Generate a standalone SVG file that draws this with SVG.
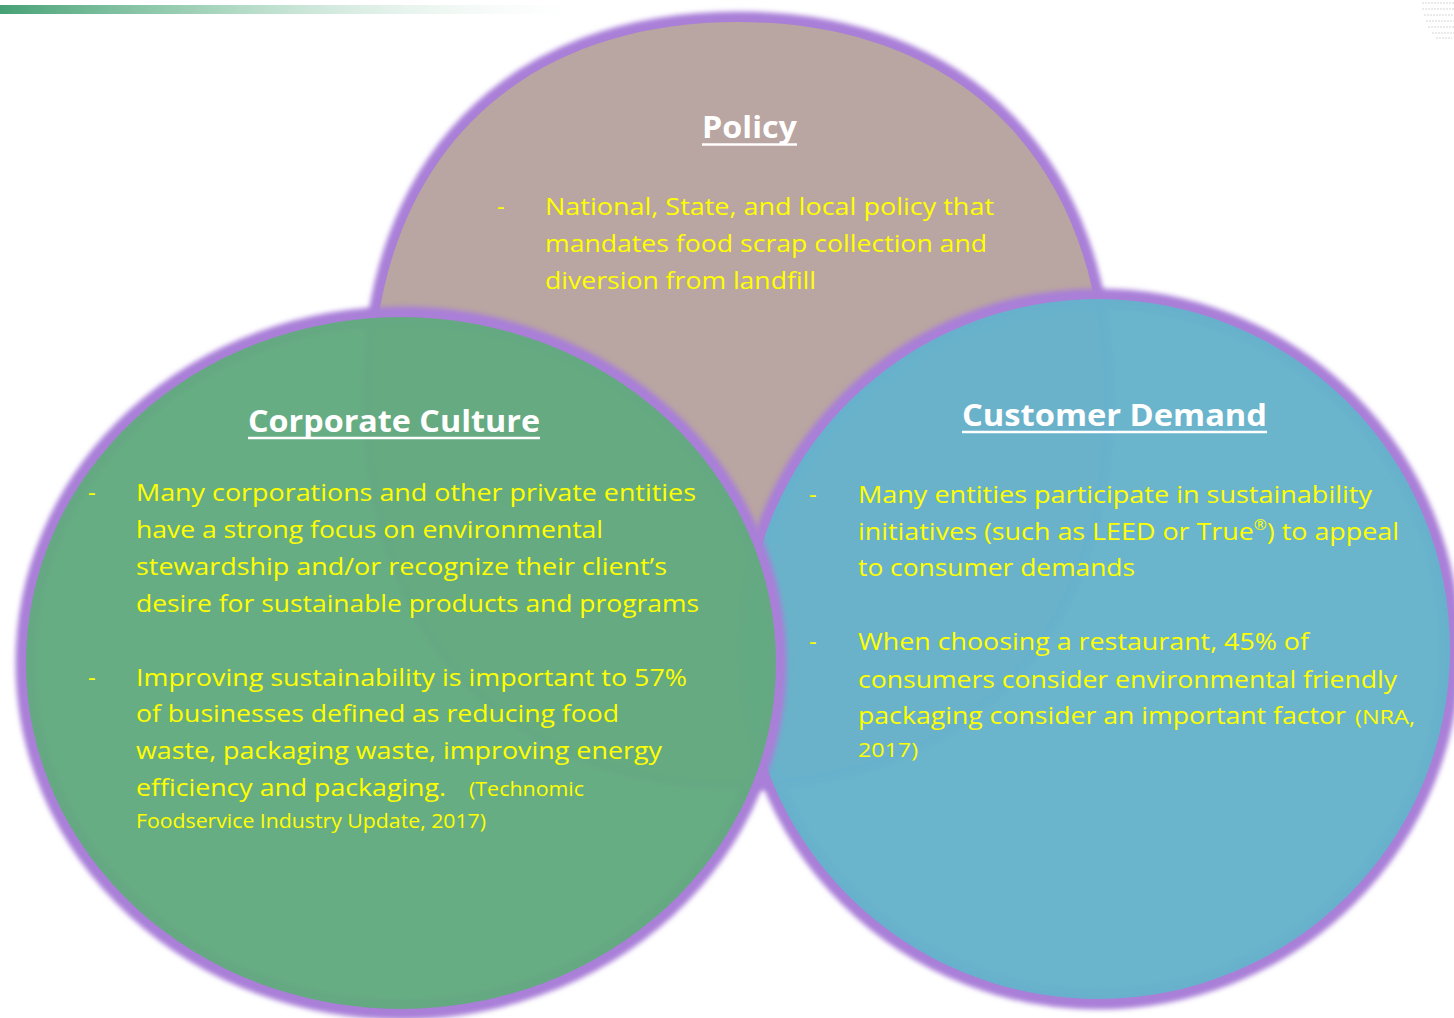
<svg xmlns="http://www.w3.org/2000/svg" width="1454" height="1018" viewBox="0 0 1454 1018">
<defs>
<linearGradient id="topbar" x1="0" y1="0" x2="1" y2="0">
<stop offset="0" stop-color="#46a175" stop-opacity="1"/>
<stop offset="0.35" stop-color="#7bbf9c" stop-opacity="0.7"/>
<stop offset="1" stop-color="#e8f4ee" stop-opacity="0"/>
</linearGradient>
<filter id="glow" x="-10%" y="-10%" width="120%" height="120%">
<feGaussianBlur stdDeviation="2.4"/>
</filter>
<style>
.glow{fill:none;stroke:#a97fd8;stroke-width:21;filter:url(#glow)}
.title{font-family:"Open Sans","Liberation Sans",sans-serif;font-weight:bold;font-size:31px;fill:#ffffff}
.ul{stroke:#ffffff;stroke-width:2.5}
.body{font-family:"Open Sans","Liberation Sans",sans-serif;font-size:24px;fill:#ffff00}
.small{font-family:"Open Sans","Liberation Sans",sans-serif;font-size:20px;fill:#ffff00}
</style>
</defs>
<rect width="1454" height="1018" fill="#ffffff"/>
<rect x="0" y="5" width="580" height="9" fill="url(#topbar)"/>
<g stroke="#e4e4e4" stroke-width="1.5" stroke-dasharray="2 1">
<line x1="1422" y1="3" x2="1454" y2="3"/>
<line x1="1422" y1="9" x2="1454" y2="9"/>
<line x1="1424" y1="15" x2="1454" y2="15"/>
<line x1="1426" y1="21" x2="1454" y2="21"/>
<line x1="1428" y1="27" x2="1454" y2="27"/>
<line x1="1432" y1="33" x2="1454" y2="33"/>
<line x1="1436" y1="38" x2="1452" y2="38"/>
</g>

<g id="policy">
<path class="glow" d="M372,400 C372,166 511,22 738,22 C965,22 1104,166 1104,400 C1104,634 965,780 738,780 C511,780 372,634 372,400 Z"/>
<path fill="#b9a5a1" d="M372,400 C372,166 511,22 738,22 C965,22 1104,166 1104,400 C1104,634 965,780 738,780 C511,780 372,634 372,400 Z"/>
<text class="title" x="702" y="138" textLength="95" lengthAdjust="spacingAndGlyphs">Policy</text>
<line class="ul" x1="702" y1="144.5" x2="797" y2="144.5"/>
<text class="body" x="497" y="215">-</text>
<text class="body" x="545" y="215" textLength="449" lengthAdjust="spacingAndGlyphs">National, State, and local policy that</text>
<text class="body" x="545" y="252" textLength="442" lengthAdjust="spacingAndGlyphs">mandates food scrap collection and</text>
<text class="body" x="545" y="289" textLength="271" lengthAdjust="spacingAndGlyphs">diversion from landfill</text>
</g>

<g id="customer-demand">
<ellipse class="glow" cx="1098" cy="649" rx="352" ry="350"/>
<ellipse fill="#67b3cb" fill-opacity="0.98" cx="1098" cy="649" rx="352" ry="350"/>
<text class="title" x="962" y="426" textLength="305" lengthAdjust="spacingAndGlyphs">Customer Demand</text>
<line class="ul" x1="962" y1="432" x2="1267" y2="432"/>
<text class="body" x="809" y="503">-</text>
<text class="body" x="858" y="503" textLength="514" lengthAdjust="spacingAndGlyphs">Many entities participate in sustainability</text>
<text class="body" x="858" y="540" textLength="541" lengthAdjust="spacingAndGlyphs">initiatives (such as LEED or True<tspan font-size="14" dy="-10">®</tspan><tspan dy="10">) to appeal</tspan></text>
<text class="body" x="858" y="576" textLength="277" lengthAdjust="spacingAndGlyphs">to consumer demands</text>
<text class="body" x="809" y="650">-</text>
<text class="body" x="858" y="650" textLength="451" lengthAdjust="spacingAndGlyphs">When choosing a restaurant, 45% of</text>
<text class="body" x="858" y="688" textLength="539" lengthAdjust="spacingAndGlyphs">consumers consider environmental friendly</text>
<text class="body" x="858" y="724" textLength="488" lengthAdjust="spacingAndGlyphs">packaging consider an important factor</text>
<text class="small" x="1355" y="724" textLength="60" lengthAdjust="spacingAndGlyphs">(NRA,</text>
<text class="small" x="858" y="757" textLength="60" lengthAdjust="spacingAndGlyphs">2017)</text>
</g>

<g id="corporate-culture">
<ellipse class="glow" cx="401" cy="663" rx="375" ry="346"/>
<ellipse fill="#62aa7f" fill-opacity="0.97" cx="401" cy="663" rx="375" ry="346"/>
<text class="title" x="248" y="432" textLength="292" lengthAdjust="spacingAndGlyphs">Corporate Culture</text>
<line class="ul" x1="248" y1="438" x2="540" y2="438"/>
<text class="body" x="88" y="501">-</text>
<text class="body" x="136" y="501" textLength="560" lengthAdjust="spacingAndGlyphs">Many corporations and other private entities</text>
<text class="body" x="136" y="538" textLength="467" lengthAdjust="spacingAndGlyphs">have a strong focus on environmental</text>
<text class="body" x="136" y="575" textLength="531" lengthAdjust="spacingAndGlyphs">stewardship and/or recognize their client’s</text>
<text class="body" x="136" y="612" textLength="563" lengthAdjust="spacingAndGlyphs">desire for sustainable products and programs</text>
<text class="body" x="88" y="686">-</text>
<text class="body" x="136" y="686" textLength="551" lengthAdjust="spacingAndGlyphs">Improving sustainability is important to 57%</text>
<text class="body" x="136" y="722" textLength="483" lengthAdjust="spacingAndGlyphs">of businesses defined as reducing food</text>
<text class="body" x="136" y="759" textLength="526" lengthAdjust="spacingAndGlyphs">waste, packaging waste, improving energy</text>
<text class="body" x="136" y="796" textLength="310" lengthAdjust="spacingAndGlyphs">efficiency and packaging.</text>
<text class="small" x="469" y="796" textLength="115" lengthAdjust="spacingAndGlyphs">(Technomic</text>
<text class="small" x="136" y="828" textLength="350" lengthAdjust="spacingAndGlyphs">Foodservice Industry Update, 2017)</text>
</g>
</svg>
